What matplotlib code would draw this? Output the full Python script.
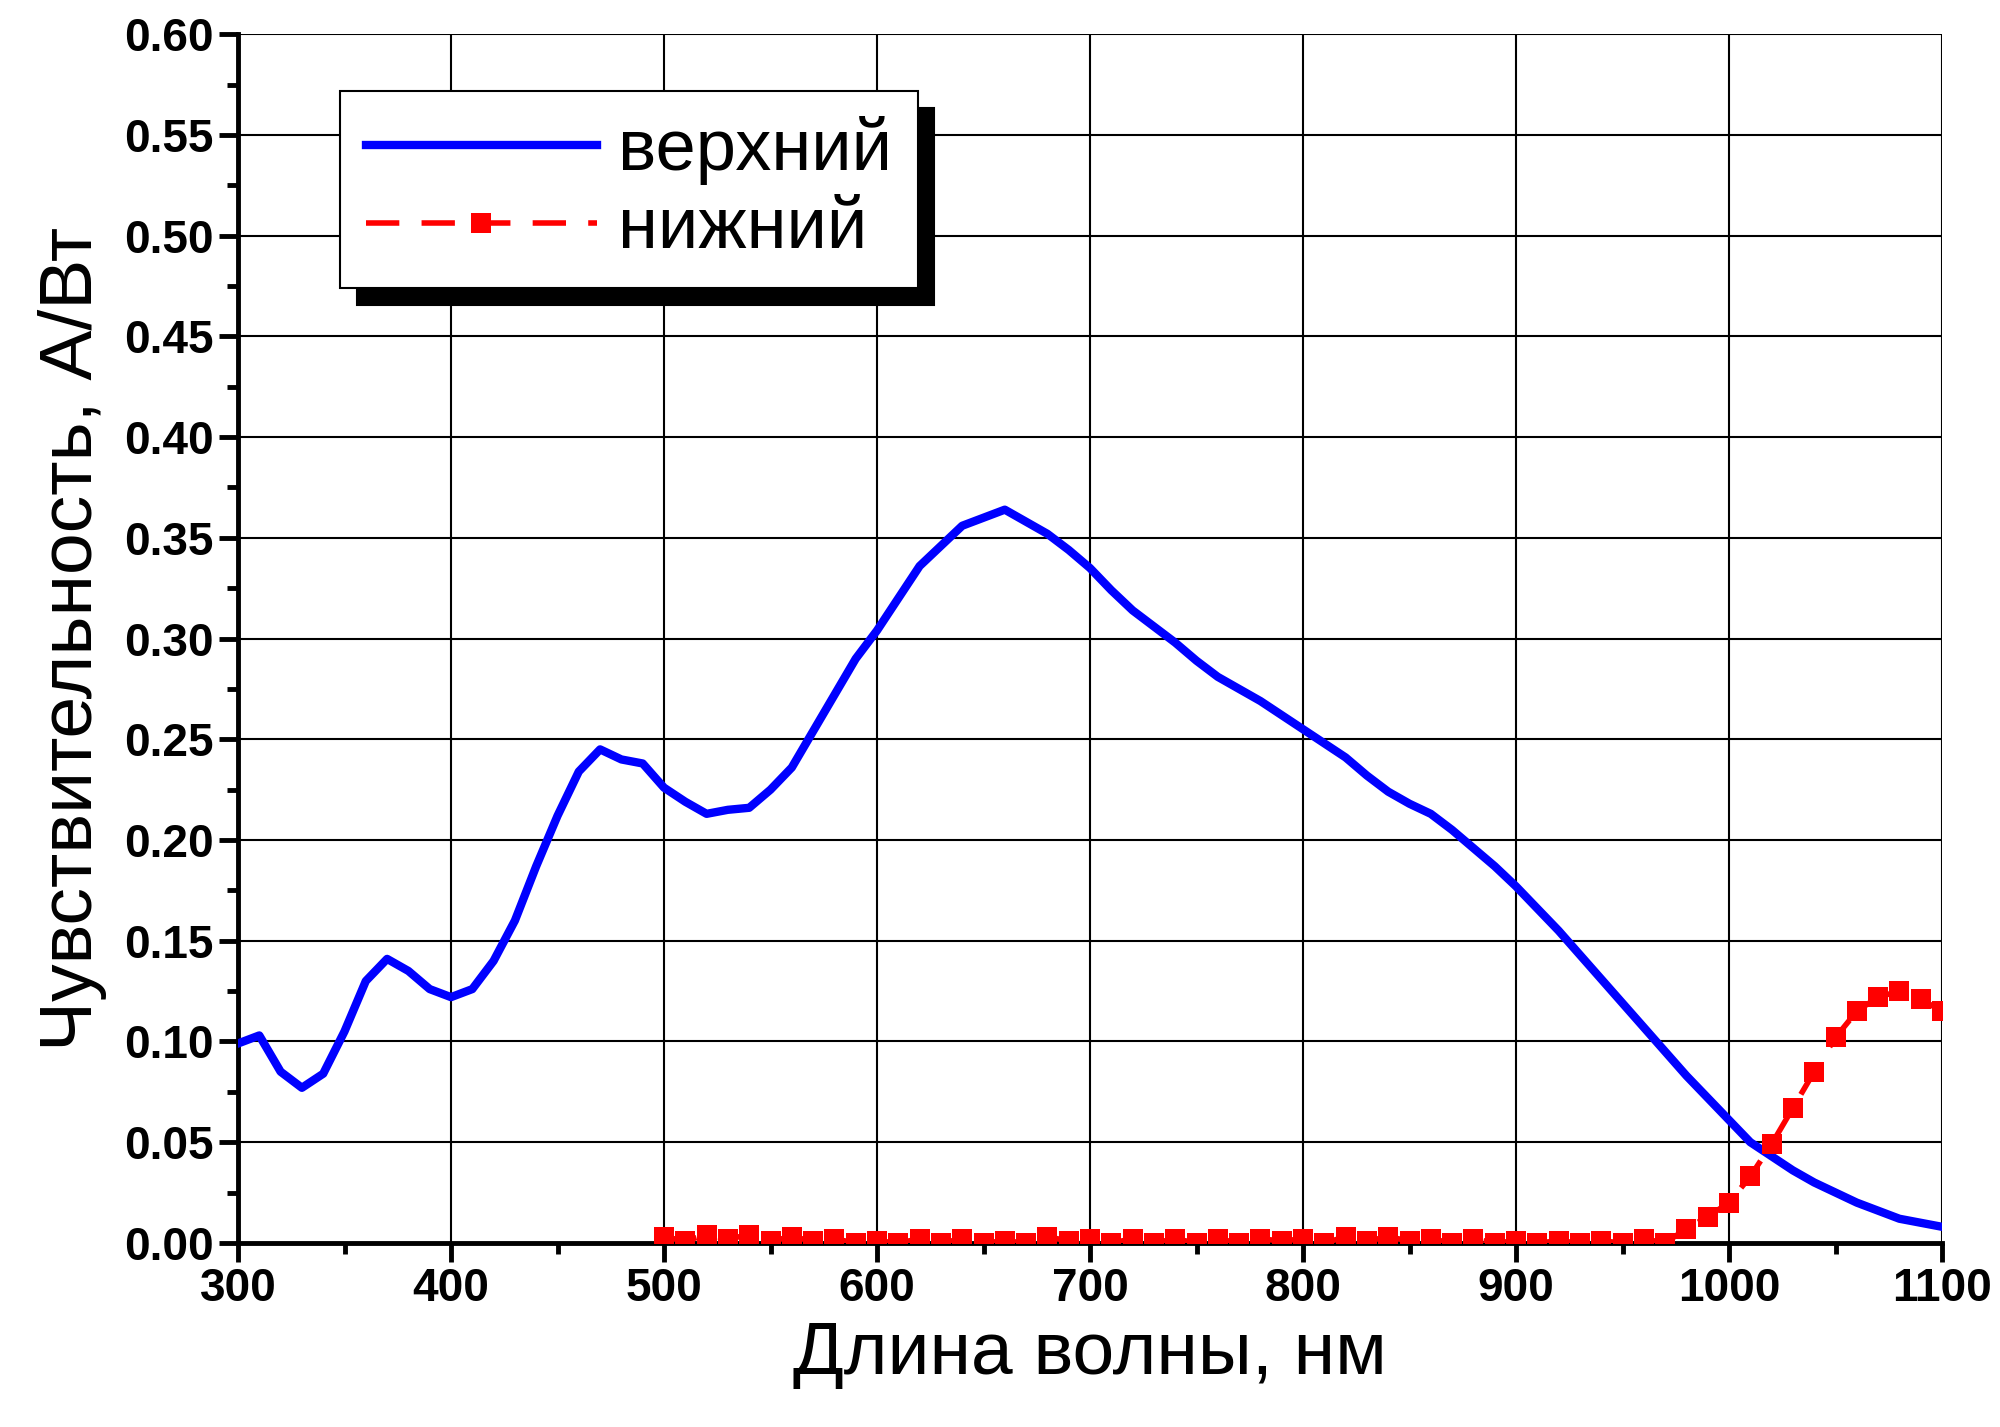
import numpy as np
import matplotlib
matplotlib.use("Agg")
import matplotlib.pyplot as plt

plt.rcParams['font.family'] = ['Liberation Sans', 'DejaVu Sans']

# ── данные ──
x_top = np.arange(300, 1101, 10)
y_top = [0.099, 0.103, 0.085, 0.077, 0.084, 0.105, 0.130, 0.141, 0.135, 0.126,
         0.122, 0.126, 0.140, 0.160, 0.187, 0.212, 0.234, 0.245, 0.240, 0.238,
         0.226, 0.219, 0.213, 0.215, 0.216, 0.225, 0.236, 0.254, 0.272, 0.290,
         0.304, 0.320, 0.336, 0.346, 0.356, 0.360, 0.364, 0.358, 0.352, 0.344,
         0.335, 0.324, 0.314, 0.306, 0.298, 0.289, 0.281, 0.275, 0.269, 0.262,
         0.255, 0.248, 0.241, 0.232, 0.224, 0.218, 0.213, 0.205, 0.196, 0.187,
         0.177, 0.166, 0.155, 0.143, 0.131, 0.119, 0.107, 0.095, 0.083, 0.072,
         0.061, 0.050, 0.043, 0.036, 0.030, 0.025, 0.020, 0.016, 0.012, 0.010,
         0.008]
x_bot = np.arange(500, 1101, 10)
y_bot = [0.003, 0.001, 0.004, 0.002, 0.004, 0.001, 0.003, 0.001, 0.002, 0.000,
         0.001, 0.000, 0.002, 0.000, 0.002, 0.000, 0.001, 0.000, 0.003, 0.001,
         0.002, 0.000, 0.002, 0.000, 0.002, 0.000, 0.002, 0.000, 0.002, 0.001,
         0.002, 0.000, 0.003, 0.001, 0.003, 0.001, 0.002, 0.000, 0.002, 0.000,
         0.001, 0.000, 0.001, 0.000, 0.001, 0.000, 0.002, 0.000, 0.007, 0.013,
         0.020, 0.033, 0.049, 0.067, 0.085, 0.102, 0.115, 0.122, 0.125, 0.121,
         0.115]

fig = plt.figure(figsize=(20, 14.27), dpi=100)
ax = fig.add_axes([0.119, 0.129, 0.852, 0.847])

ax.plot(x_top, y_top, color='#0000ff', lw=6, label='верхний', zorder=3)
ax.plot(x_bot, y_bot, color='#ff0000', lw=4, ls=(0, (6, 4)), marker='s',
        ms=14, mew=0, label='нижний', zorder=4)

ax.set_xlim(300, 1100)
ax.set_ylim(0, 0.6)
ax.set_xticks(np.arange(300, 1101, 100))
ax.set_xticks(np.arange(350, 1100, 100), minor=True)
ax.set_yticks(np.arange(0, 0.601, 0.05))
ax.set_yticks(np.arange(0.025, 0.6, 0.05), minor=True)
ax.yaxis.set_major_formatter(matplotlib.ticker.FormatStrFormatter('%.2f'))
ax.grid(True, which='major', color='black', lw=1.5)
for s in ['top', 'right']:
    ax.spines[s].set_visible(False)
for s in ['left', 'bottom']:
    ax.spines[s].set_linewidth(3.5)
ax.tick_params(which='major', length=14, width=3.5, labelsize=33, direction='out')
ax.tick_params(which='minor', length=8, width=3.5, direction='out')
for lab in ax.get_xticklabels() + ax.get_yticklabels():
    lab.set_fontweight('bold')

ax.set_xlabel('Длина волны, нм', fontsize=54, labelpad=6)
ax.set_ylabel('Чувствительность, А/Вт', fontsize=54, labelpad=12)

leg = ax.legend(loc='upper left', bbox_to_anchor=(0.06, 0.953), fontsize=52,
                handlelength=3.2, handletextpad=0.3, borderpad=0.35,
                labelspacing=0.15, borderaxespad=0, fancybox=False,
                shadow={'color': 'black', 'alpha': 1, 'ox': 12, 'oy': -12},
                framealpha=1, edgecolor='black')
leg.get_frame().set_linewidth(1.5)

fig.savefig('out.png', dpi=100)
